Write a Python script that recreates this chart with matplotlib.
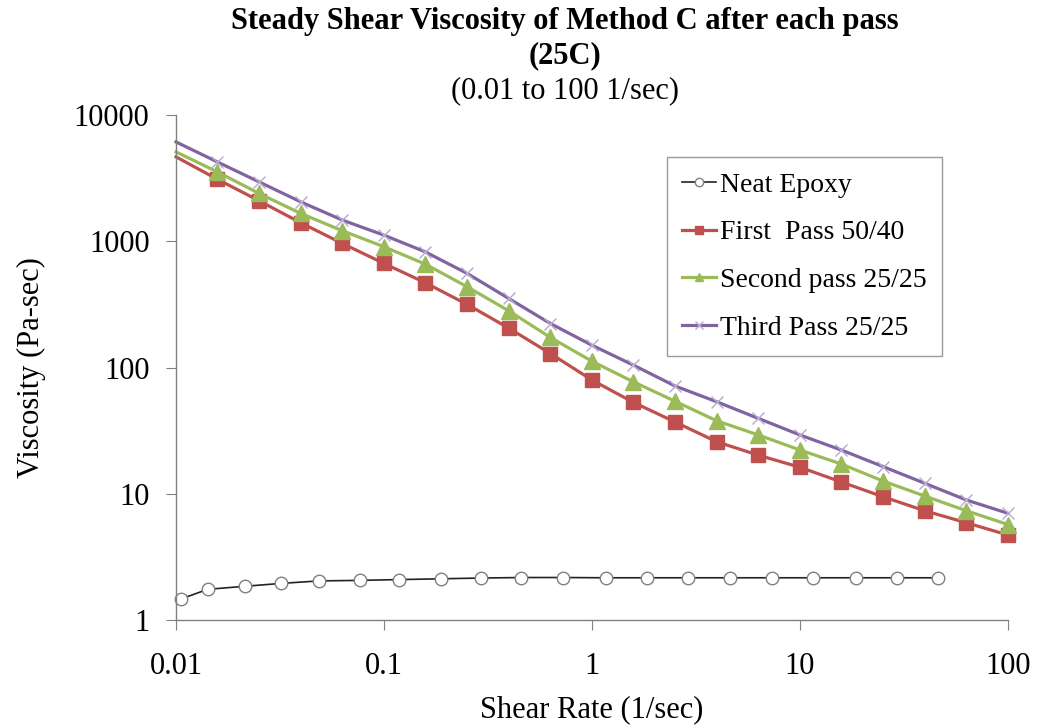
import matplotlib
matplotlib.use('Agg')
import matplotlib.pyplot as plt
import matplotlib.ticker as mticker

plt.rcParams['font.family'] = ['Liberation Serif', 'DejaVu Serif']

# shear rates, 5 points per decade
rate = [0.01, 0.0158, 0.0251, 0.0398, 0.0631, 0.1, 0.158, 0.251, 0.398, 0.631,
        1, 1.58, 2.51, 3.98, 6.31, 10, 15.8, 25.1, 39.8, 63.1, 100]

first_pass = [4660, 3100, 2090, 1400, 960, 667, 469, 316, 205, 129,
              79.5, 53, 37, 25.8, 20.2, 16.2, 12.4, 9.46, 7.33, 5.89, 4.71]
second_pass = [5100, 3545, 2390, 1660, 1210, 904, 659, 436, 281, 173,
               112, 77, 54, 37.8, 29.2, 22.2, 17.2, 12.6, 9.59, 7.33, 5.7]
third_pass = [6120, 4250, 2950, 2050, 1470, 1117, 824, 556, 352, 223,
              150, 104.5, 71.3, 53.5, 39.5, 29.2, 22.2, 16.4, 12.1, 8.92, 7.0]

neat_rate = [0.0106, 0.0142, 0.0215, 0.0321, 0.0487, 0.0763, 0.118, 0.188, 0.292, 0.458,
             0.727, 1.17, 1.83, 2.91, 4.62, 7.33, 11.6, 18.5, 29.4, 46.0]
neat = [1.47, 1.75, 1.85, 1.95, 2.04, 2.06, 2.09, 2.12, 2.15, 2.17,
        2.17, 2.16, 2.16, 2.16, 2.16, 2.16, 2.16, 2.16, 2.16, 2.16]

fig = plt.figure(figsize=(10.39, 7.25), dpi=100)
ax = fig.add_axes([176 / 1039, 1 - 620 / 725, (1008 - 176) / 1039, (620 - 115) / 725])

marks = list(range(1, len(rate)))

ax.plot(neat_rate, neat, color='#222222', lw=1.2, marker='o', ms=9, mfc='white',
        mec='#808080', mew=1.0, label='Neat Epoxy', clip_on=False)
ax.plot(rate, first_pass, color='#C0504D', lw=2.3, marker='s', ms=10, markevery=marks,
        label='First  Pass 50/40', clip_on=False)
ax.plot(rate, second_pass, color='#9BBB59', lw=2.3, marker='^', ms=11, markevery=marks,
        label='Second pass 25/25', clip_on=False)
ax.plot(rate, third_pass, color='#8064A2', lw=2.3, marker='x', ms=8, mec='#B8A8D0',
        mew=1.0, markevery=marks, label='Third Pass 25/25', clip_on=False)

ax.set_xscale('log')
ax.set_yscale('log')
ax.set_xlim(0.01, 100)
ax.set_ylim(1, 10000)

ax.xaxis.set_major_locator(mticker.LogLocator(base=10, numticks=10))
ax.yaxis.set_major_locator(mticker.LogLocator(base=10, numticks=10))
ax.xaxis.set_minor_locator(mticker.NullLocator())
ax.yaxis.set_minor_locator(mticker.NullLocator())
ax.xaxis.set_major_formatter(mticker.FuncFormatter(lambda v, p: '%g' % v))
ax.yaxis.set_major_formatter(mticker.FuncFormatter(lambda v, p: '%d' % v))

for s in ['top', 'right']:
    ax.spines[s].set_visible(False)
for s in ['left', 'bottom']:
    ax.spines[s].set_color('#808080')
    ax.spines[s].set_linewidth(1.0)
ax.tick_params(direction='out', length=7, color='#808080', labelsize=22)
ax.tick_params(axis='y', pad=12)
ax.tick_params(axis='x', pad=16)

ax.set_xlabel('Shear Rate (1/sec)', fontsize=22, labelpad=10)
ax.set_ylabel('Viscosity (Pa-sec)', fontsize=22, labelpad=20)

fig.text(565 / 1039, 1 - 22 / 725, 'Steady Shear Viscosity of Method C after each pass',
         ha='center', va='center', fontsize=22, fontweight='bold')
fig.text(565 / 1039, 1 - 56 / 725, '(25C)', ha='center', va='center', fontsize=22,
         fontweight='bold')
fig.text(565 / 1039, 1 - 91 / 725, '(0.01 to 100 1/sec)', ha='center', va='center',
         fontsize=22)

leg = ax.legend(loc='upper left', bbox_to_anchor=((667 - 176) / 832, 1 - (157 - 115) / 505),
                fontsize=20, frameon=True, fancybox=False, handlelength=1.2,
                handletextpad=0.15, labelspacing=0.8, borderpad=0.55, borderaxespad=0)
leg.get_frame().set_edgecolor('#808080')
leg.get_frame().set_linewidth(1.0)
for h in leg.legend_handles:
    h.set_markersize(6)

fig.savefig('out.png', dpi=100)
